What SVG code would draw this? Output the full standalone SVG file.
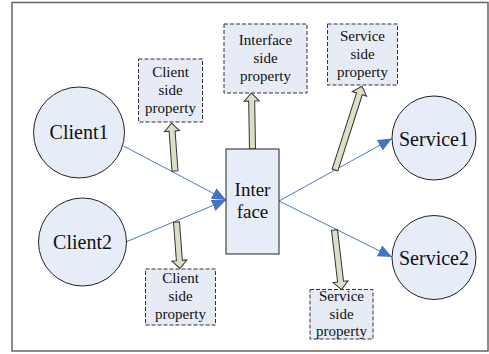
<svg xmlns="http://www.w3.org/2000/svg" width="489" height="354" viewBox="0 0 489 354">
<style>
.node{fill:#e6ecf8;stroke:#222;stroke-width:1}
.prop{fill:#e6ebf5;stroke:#333;stroke-width:1;stroke-dasharray:4 2}
text{font-family:'Liberation Serif','Times New Roman','DejaVu Serif',serif;fill:#111;text-anchor:middle}
.big{font-size:20px}
.mid{font-size:19px}
.small{font-size:15px}
.conn{fill:none;stroke:#4a7ebb;stroke-width:1;marker-end:url(#ah)}
.blk{fill:#dedec8;stroke:#333;stroke-width:1}
</style>
<defs>
<marker id="ah" markerUnits="userSpaceOnUse" markerWidth="15" markerHeight="13" refX="14" refY="6" orient="auto" viewBox="0 0 15 13">
<path d="M0,0 L14,6 L0,12 Z" fill="#4472c4"/>
</marker>
</defs>
<rect x="12" y="2.5" width="476" height="348.5" fill="#fff" stroke="#666" stroke-width="1.5"/>

<g id="connectors">
<path class="conn" d="M123.5,146 L226,200"/>
<path class="conn" d="M127,241.5 L226,200"/>
<path class="conn" d="M279,201 L392,138.5"/>
<path class="conn" d="M279,201 L392,257"/>
<path class="blk" transform="translate(175,171) rotate(-94.2)" d="M0,-3 H40 V-7.5 L48,0 L40,7.5 V3 H0 Z"/>
<path class="blk" transform="translate(252.5,149) rotate(-91)" d="M0,-3 H48 V-7.5 L56,0 L48,7.5 V3 H0 Z"/>
<path class="blk" transform="translate(335,170) rotate(-72.2)" d="M0,-3 H80 V-7.5 L88,0 L80,7.5 V3 H0 Z"/>
<path class="blk" transform="translate(176.5,222) rotate(85.7)" d="M0,-3 H38.6 V-7.5 L46.6,0 L38.6,7.5 V3 H0 Z"/>
<path class="blk" transform="translate(334.5,230) rotate(83.3)" d="M0,-3 H52 V-7.5 L60,0 L52,7.5 V3 H0 Z"/>
</g>

<g id="client1">
<circle class="node" cx="79" cy="132.5" r="45.5"/>
<text class="big" x="79" y="138.5">Client1</text>
</g>
<g id="client2">
<circle class="node" cx="82.5" cy="242" r="44"/>
<text class="big" x="82.5" y="249">Client2</text>
</g>
<g id="service1">
<circle class="node" cx="434" cy="138" r="42"/>
<text class="big" x="434" y="145.5">Service1</text>
</g>
<g id="service2">
<circle class="node" cx="434" cy="257.5" r="42"/>
<text class="big" x="434" y="264.5">Service2</text>
</g>
<g id="interface">
<rect class="node" x="226" y="149" width="53" height="105"/>
<text class="mid" x="252.5" y="196">Inter</text>
<text class="mid" x="252.5" y="218">face</text>
</g>

<g id="client-prop-top">
<rect class="prop" x="138.5" y="59" width="64" height="63"/>
<text class="small" x="170.5" y="77">Client</text>
<text class="small" x="170.5" y="95">side</text>
<text class="small" x="170.5" y="113">property</text>
</g>
<g id="interface-prop">
<rect class="prop" x="224" y="24" width="83" height="69"/>
<text class="small" x="265.5" y="45">Interface</text>
<text class="small" x="265.5" y="63">side</text>
<text class="small" x="265.5" y="81">property</text>
</g>
<g id="service-prop-top">
<rect class="prop" x="327.5" y="24" width="70" height="61"/>
<text class="small" x="362.5" y="41">Service</text>
<text class="small" x="362.5" y="59">side</text>
<text class="small" x="362.5" y="77">property</text>
</g>
<g id="client-prop-bottom">
<rect class="prop" x="145.5" y="269" width="70" height="56"/>
<text class="small" x="180.5" y="283">Client</text>
<text class="small" x="180.5" y="301">side</text>
<text class="small" x="180.5" y="319">property</text>
</g>
<g id="service-prop-bottom">
<rect class="prop" x="310" y="289.5" width="63" height="49.5"/>
<text class="small" x="341.5" y="301">Service</text>
<text class="small" x="341.5" y="318.5">side</text>
<text class="small" x="341.5" y="336">property</text>
</g>
</svg>
